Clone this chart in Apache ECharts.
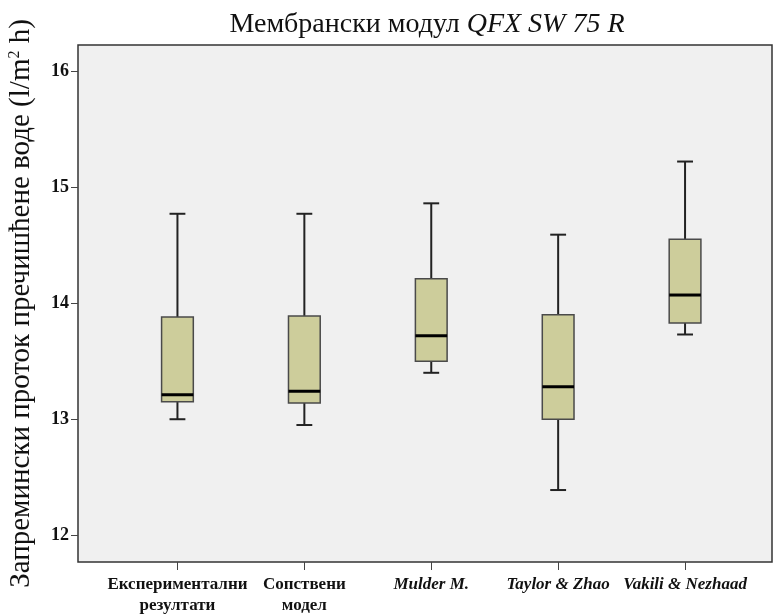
<!DOCTYPE html>
<html>
<head>
<meta charset="utf-8">
<script src="https://cdn.jsdelivr.net/npm/echarts@6/dist/echarts.min.js"></script>
<style>
  html, body { margin: 0; padding: 0; background: #fff; }
  #chart { width: 774px; height: 614px; }
</style>
</head>
<body>
<div id="chart"></div>
<script>
// категорије и вредности (l/m2 h), очитано са слике
var categories = ['Експериментални\nрезултати', 'Сопствени\nмодел', 'Mulder M.', 'Taylor & Zhao', 'Vakili & Nezhaad'];
var italicCats = [false, false, true, true, true];
var mins    = [13.00, 12.95, 13.40, 12.39, 13.73];
var q1s     = [13.15, 13.14, 13.50, 13.00, 13.83];
var medians = [13.21, 13.24, 13.72, 13.28, 14.07];
var q3s     = [13.88, 13.89, 14.21, 13.90, 14.55];
var maxs    = [14.77, 14.77, 14.86, 14.59, 15.22];
var yTicks  = [12, 13, 14, 15, 16];

var yMin = 11.77, yMax = 16.224;

var boxData = categories.map(function (c, i) {
    return [i, mins[i], q1s[i], medians[i], q3s[i], maxs[i]];
});

function renderBox(params, api) {
    var idx = api.value(0);
    var pt = function (v) { return api.coord([idx, v]); };
    var band = api.size([1, 0])[0];
    var half = band * 0.125;
    var cap = half * 0.5;
    var lo = pt(api.value(1)), q1 = pt(api.value(2)), med = pt(api.value(3)),
        q3 = pt(api.value(4)), hi = pt(api.value(5));
    var x = med[0];
    var wStyle = { stroke: '#222', lineWidth: 2 };
    return {
        type: 'group',
        children: [
            { type: 'line', shape: { x1: x, y1: hi[1], x2: x, y2: q3[1] }, style: wStyle },
            { type: 'line', shape: { x1: x, y1: q1[1], x2: x, y2: lo[1] }, style: wStyle },
            { type: 'line', shape: { x1: x - cap, y1: hi[1], x2: x + cap, y2: hi[1] }, style: wStyle },
            { type: 'line', shape: { x1: x - cap, y1: lo[1], x2: x + cap, y2: lo[1] }, style: wStyle },
            { type: 'rect', shape: { x: x - half, y: q3[1], width: half * 2, height: q1[1] - q3[1] },
              style: { fill: '#cdcd9b', stroke: '#4a4a4a', lineWidth: 1.5 } },
            { type: 'line', shape: { x1: x - half, y1: med[1], x2: x + half, y2: med[1] },
              style: { stroke: '#000', lineWidth: 3 } }
        ]
    };
}

var myChart = echarts.init(document.getElementById('chart'));

var serif = '"Liberation Serif", "DejaVu Serif", serif';

var option = {
    backgroundColor: '#fff',
    animation: false,
    title: {
        text: '{n|Мембрански модул }{i|QFX SW 75 R}',
        left: 422,
        textAlign: 'center',
        top: 6,
        textStyle: {
            rich: {
                n: { fontFamily: serif, fontSize: 28, fontWeight: 'normal', color: '#111' },
                i: { fontFamily: serif, fontSize: 28, fontWeight: 'normal', fontStyle: 'italic', color: '#111' }
            }
        }
    },
    grid: [
        { left: 114, right: 25.5, top: 45, bottom: 52, outerBoundsMode: 'none' },
        { left: 78, right: 2, top: 45, bottom: 52, show: true, outerBoundsMode: 'none',
          backgroundColor: '#f0f0f0', borderColor: '#333', borderWidth: 1.5, z: 0 }
    ],
    xAxis: [
        {
            type: 'category', gridIndex: 0, data: categories,
            axisLine: { show: false },
            axisTick: { show: true, alignWithLabel: true, length: 8, lineStyle: { color: '#444' } },
            axisLabel: {
                interval: 0, margin: 12,
                formatter: function (v, i) {
                    return v.split('\n').map(function (s) {
                        return (italicCats[i] ? '{i|' : '{b|') + s + '}';
                    }).join('\n');
                },
                rich: {
                    b: { fontFamily: serif, fontWeight: 'bold', fontSize: 17, color: '#111', lineHeight: 21 },
                    i: { fontFamily: serif, fontWeight: 'bold', fontStyle: 'italic', fontSize: 17, color: '#111', lineHeight: 21 }
                }
            }
        },
        { type: 'value', gridIndex: 1, show: false, min: 0, max: 1 }
    ],
    yAxis: [
        { type: 'value', gridIndex: 0, min: yMin, max: yMax, show: false },
        {
            type: 'value', gridIndex: 1, min: yMin, max: yMax,
            name: '{a|Запремински проток пречишћене воде (l/m}{s|2}{a| h)}',
            nameLocation: 'middle', nameGap: 42,
            nameTextStyle: {
                rich: {
                    a: { fontFamily: serif, fontSize: 29, color: '#111' },
                    s: { fontFamily: serif, fontSize: 16, color: '#111', verticalAlign: 'top', padding: [0, 0, 12, 0] }
                }
            },
            axisLine: { show: false },
            splitLine: { show: false },
            axisTick: { show: true, length: 7, customValues: yTicks, lineStyle: { color: '#444' } },
            axisLabel: {
                customValues: yTicks, margin: 9,
                fontFamily: serif, fontWeight: 'bold', fontSize: 18, color: '#111'
            }
        }
    ],
    series: [{
        type: 'custom',
        xAxisIndex: 0, yAxisIndex: 0,
        renderItem: renderBox,
        encode: { x: 0, y: [1, 2, 3, 4, 5] },
        data: boxData,
        z: 5
    }]
};

myChart.setOption(option);
</script>
</body>
</html>
